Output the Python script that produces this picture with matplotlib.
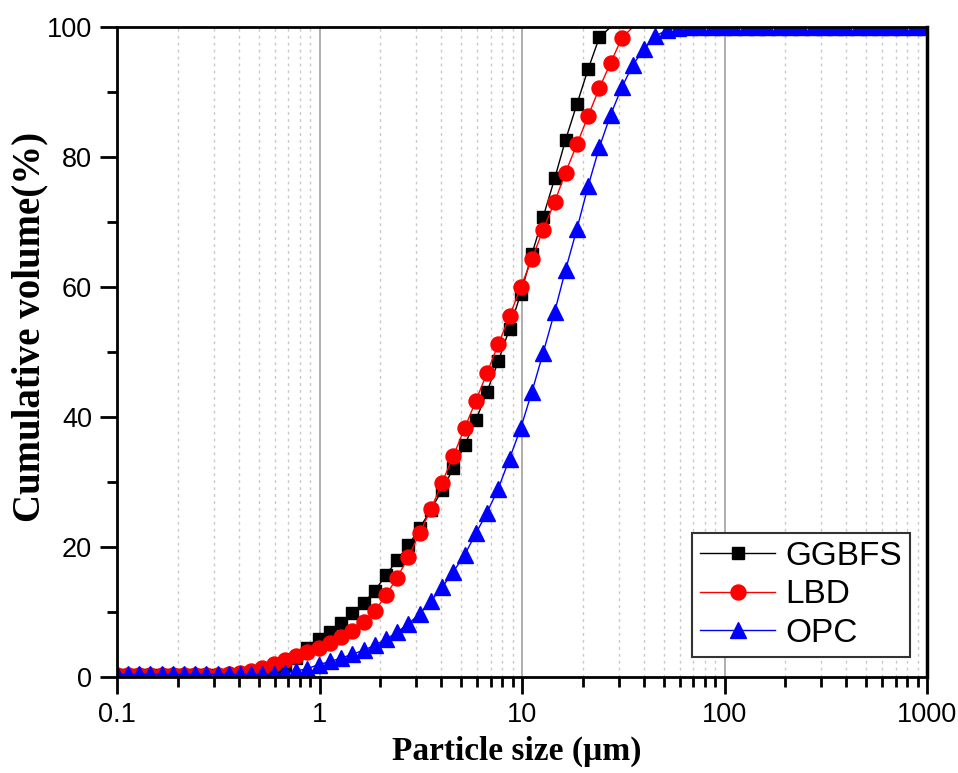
import matplotlib
matplotlib.use("Agg")
import matplotlib.pyplot as plt
from matplotlib.ticker import FixedLocator, FixedFormatter, NullFormatter, MultipleLocator

# Laser-diffraction size classes (µm)
sizes = [0.0995, 0.113, 0.128, 0.146, 0.166, 0.188, 0.214, 0.243, 0.276, 0.314,
         0.357, 0.405, 0.460, 0.523, 0.594, 0.675, 0.767, 0.872, 0.991, 1.13,
         1.28, 1.45, 1.65, 1.88, 2.13, 2.42, 2.75, 3.12, 3.55, 4.03,
         4.58, 5.21, 5.92, 6.72, 7.64, 8.68, 9.86, 11.2, 12.7, 14.5,
         16.4, 18.7, 21.2, 24.1, 27.4, 31.1, 35.3, 40.1, 45.6, 51.8,
         58.9, 66.9, 76.0, 86.4, 98.1, 111, 127, 144, 163, 186,
         211, 240, 272, 310, 352, 400, 454, 516, 586, 666,
         756, 859, 976]

# Cumulative volume passing (%)
ggbfs = [0.3, 0.3, 0.3, 0.3, 0.3, 0.3, 0.3, 0.3, 0.3, 0.3,
         0.3, 0.3, 0.4, 0.6, 1.0, 1.8, 3.0, 4.5, 5.8, 7.0,
         8.3, 9.8, 11.4, 13.3, 15.7, 18.0, 20.3, 22.9, 25.7, 28.8,
         32.1, 35.7, 39.5, 43.9, 48.6, 53.6, 59.0, 65.1, 70.7, 76.7,
         82.6, 88.2, 93.5, 98.4, 100, 100, 100, 100, 100, 100,
         100, 100, 100, 100, 100, 100, 100, 100, 100, 100,
         100, 100, 100, 100, 100, 100, 100, 100, 100, 100,
         100, 100, 100]

lbd = [0.3, 0.3, 0.3, 0.3, 0.3, 0.3, 0.3, 0.3, 0.3, 0.3,
       0.4, 0.6, 0.9, 1.4, 2.0, 2.6, 3.2, 3.9, 4.5, 5.2,
       6.1, 7.1, 8.4, 10.2, 12.6, 15.3, 18.5, 22.1, 25.8, 29.9,
       34.0, 38.3, 42.5, 46.8, 51.2, 55.5, 60.0, 64.3, 68.8, 73.1,
       77.6, 82.0, 86.3, 90.6, 94.5, 98.3, 100, 100, 100, 100,
       100, 100, 100, 100, 100, 100, 100, 100, 100, 100,
       100, 100, 100, 100, 100, 100, 100, 100, 100, 100,
       100, 100, 100]

opc = [0.4, 0.4, 0.4, 0.4, 0.4, 0.4, 0.4, 0.4, 0.4, 0.4,
       0.4, 0.4, 0.4, 0.4, 0.5, 0.6, 0.9, 1.3, 1.9, 2.4,
       2.9, 3.5, 4.1, 4.9, 5.8, 6.9, 8.2, 9.7, 11.7, 13.8,
       16.2, 18.8, 22.1, 25.3, 29.0, 33.6, 38.3, 43.9, 49.8, 56.2,
       62.6, 69.0, 75.5, 81.5, 86.5, 90.7, 94.2, 96.6, 98.6, 99.5,
       99.9, 100, 100, 100, 100, 100, 100, 100, 100, 100,
       100, 100, 100, 100, 100, 100, 100, 100, 100, 100,
       100, 100, 100]

series_names = ["GGBFS", "LBD", "OPC"]

x_tick_values = [0.1, 1, 10, 100, 1000]
x_tick_labels = ["0.1", "1", "10", "100", "1000"]
y_tick_values = [0, 20, 40, 60, 80, 100]

sans = ["Liberation Sans", "DejaVu Sans"]
serif = ["Liberation Serif", "DejaVu Serif"]

fig = plt.figure(figsize=(9.58, 7.73), dpi=100)
ax = fig.add_axes([117 / 958, 1 - 677 / 773, 810 / 958, 650 / 773])

ax.set_xscale("log")
ax.set_xlim(0.1, 1000)
ax.set_ylim(0, 100)

# vertical grid: solid at decades, dotted at intermediate values
ax.grid(which="major", axis="x", color="#a8a8a8", linewidth=1.3, linestyle="-", zorder=0)
ax.grid(which="minor", axis="x", color="#c8c8c8", linewidth=1.0, linestyle=(0, (2, 3)), zorder=0)
ax.grid(which="major", axis="y", visible=False)
ax.set_axisbelow(True)

# full-scale points on the two finer powders carry no marker
g_marks = [v < 100 for v in ggbfs]
l_marks = [v < 100 for v in lbd]

ax.plot(sizes, ggbfs, color="black", linewidth=1.0, marker="s", markersize=9.3,
        markerfacecolor="black", markeredgecolor="black", markevery=g_marks,
        label=series_names[0], zorder=3)
ax.plot(sizes, lbd, color="#ff0000", linewidth=1.0, marker="o", markersize=10.8,
        markerfacecolor="#ff0000", markeredgecolor="#ff0000", markevery=l_marks,
        label=series_names[1], zorder=4)
ax.plot(sizes, opc, color="#0000ff", linewidth=1.0, marker="^", markersize=11.0,
        markerfacecolor="#0000ff", markeredgecolor="#0000ff",
        label=series_names[2], zorder=5)

ax.xaxis.set_major_locator(FixedLocator(x_tick_values))
ax.xaxis.set_major_formatter(FixedFormatter(x_tick_labels))
minor_x = [m * d for d in (0.1, 1, 10, 100) for m in range(2, 10)]
ax.xaxis.set_minor_locator(FixedLocator(minor_x))
ax.xaxis.set_minor_formatter(NullFormatter())

ax.yaxis.set_major_locator(FixedLocator(y_tick_values))
ax.yaxis.set_minor_locator(MultipleLocator(10))

ax.tick_params(which="major", direction="out", length=12, width=2, color="black",
               labelsize=19.5, pad=6, top=False, right=False)
ax.tick_params(which="minor", direction="out", length=7, width=2, color="black",
               top=False, right=False)
for lab in ax.get_xticklabels() + ax.get_yticklabels():
    lab.set_fontfamily(sans)

for side in ("left", "bottom", "top"):
    ax.spines[side].set_linewidth(2)
    ax.spines[side].set_color("black")
ax.spines["right"].set_linewidth(2.5)
ax.spines["right"].set_color("black")
for sp in ax.spines.values():
    sp.set_zorder(6)

ax.set_xlabel("Particle size (\u00b5m)", fontsize=24, fontweight="bold",
              fontfamily=serif)
ax.set_ylabel("Cumulative volume(%)", fontsize=28, fontweight="bold",
              fontfamily=serif)
ax.xaxis.set_label_coords(0.493, -0.09)
ax.yaxis.set_label_coords(-0.085, 0.538)

leg = ax.legend(loc="lower right", bbox_to_anchor=(0.979, 0.031), borderaxespad=0,
                frameon=True, fancybox=False, edgecolor="#333333", framealpha=1,
                prop={"family": sans, "size": 24}, handlelength=2.25,
                handletextpad=0.3, labelspacing=0.22, borderpad=0.25)
leg.get_frame().set_linewidth(1.5)
leg.set_zorder(10)

fig.savefig("out.png", dpi=100)
